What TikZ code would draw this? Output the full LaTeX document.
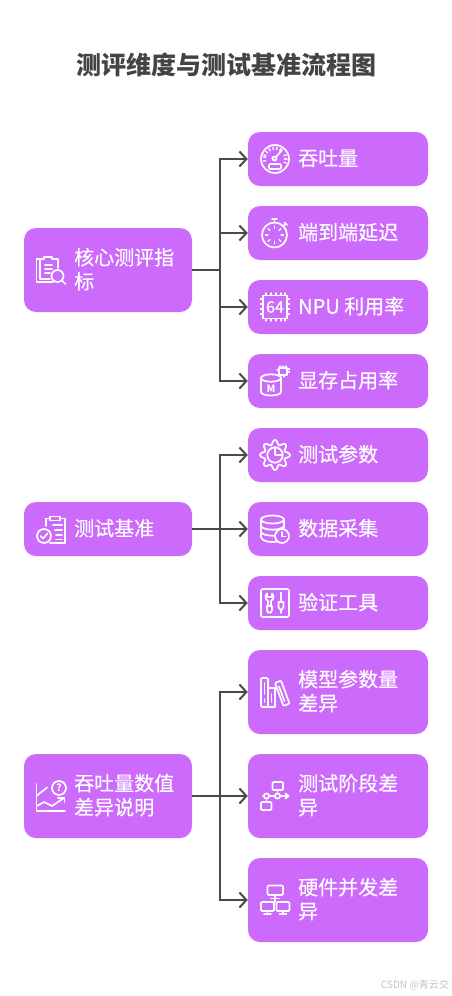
\documentclass[tikz,border=0pt]{standalone}
\usepackage{fontspec}
\setmainfont{Noto Sans CJK SC}
\usepackage{xcolor}
\usetikzlibrary{arrows.meta}
\definecolor{boxc}{HTML}{CC6BFB}
\definecolor{linec}{HTML}{4A4A4A}
\definecolor{titlec}{HTML}{444444}
\definecolor{markc}{HTML}{C4C4C4}
\tikzset{
  x=1pt,y=-1pt,
  boxn/.style={fill=boxc,rounded corners=12pt,inner sep=0pt,minimum width=#1},
  pbox/.style={boxn=168pt},
  cbox/.style={boxn=180pt},
  lbl/.style={anchor=west,inner sep=0pt,align=left,text=white,yshift=0.8pt,font=\fontsize{20}{24}\selectfont\addfontfeature{FakeBold=0.25}},
  conn/.style={draw=linec,line width=2pt,-{Straight Barb[length=7pt,width=15pt,line width=2pt]}},
  ic/.style={draw=white,line width=1.7pt,line cap=round,line join=round},
  ict/.style={ic,line width=1.3pt},
  icf/.style={ic,fill=boxc},
  ictxt/.style={inner sep=0pt,text=white}
}
\begin{document}
\begin{tikzpicture}
\useasboundingbox[fill=white] (0,0) rectangle (452,996);
\node[inner sep=0pt,text=titlec,font=\fontsize{25}{30}\selectfont\bfseries] (title) at (226.5,65) {测评维度与测试基准流程图};

% parent boxes
\node[pbox,minimum height=84pt] (p1) at (108,270) {};
\node[pbox,minimum height=54pt] (p2) at (108,529) {};
\node[pbox,minimum height=84pt] (p3) at (108,796) {};
% child boxes
\node[cbox,minimum height=54pt] (a1) at (338,159) {};
\node[cbox,minimum height=54pt] (a2) at (338,233) {};
\node[cbox,minimum height=54pt] (a3) at (338,307) {};
\node[cbox,minimum height=54pt] (a4) at (338,381) {};
\node[cbox,minimum height=54pt] (b1) at (338,455) {};
\node[cbox,minimum height=54pt] (b2) at (338,529) {};
\node[cbox,minimum height=54pt] (b3) at (338,603) {};
\node[cbox,minimum height=84pt] (c1) at (338,692) {};
\node[cbox,minimum height=84pt] (c2) at (338,796) {};
\node[cbox,minimum height=84pt] (c3) at (338,900) {};

% labels
\node[lbl] (tp1) at (74,270) {核心测评指\\标};
\node[lbl] (tp2) at (74,529) {测试基准};
\node[lbl] (tp3) at (74,796) {吞吐量数值\\差异说明};
\node[lbl] (ta1) at (298,159) {吞吐量};
\node[lbl] (ta2) at (298,233) {端到端延迟};
\node[lbl] (ta3) at (298,307) {NPU 利用率};
\node[lbl] (ta4) at (298,381) {显存占用率};
\node[lbl] (tb1) at (298,455) {测试参数};
\node[lbl] (tb2) at (298,529) {数据采集};
\node[lbl] (tb3) at (298,603) {验证工具};
\node[lbl] (tc1) at (298,692) {模型参数量\\差异};
\node[lbl] (tc2) at (298,796) {测试阶段差\\异};
\node[lbl] (tc3) at (298,900) {硬件并发差\\异};

% connectors
\coordinate (j1) at (220,270);
\coordinate (j2) at (220,529);
\coordinate (j3) at (220,796);
\foreach \t in {a1,a2,a3,a4} \draw[conn] (p1.east) -- (j1) |- (\t.west);
\foreach \t in {b1,b3} \draw[conn] (p2.east) -- (j2) |- (\t.west);
\draw[conn] (p2.east) -- (b2.west);
\foreach \t in {c1,c3} \draw[conn] (p3.east) -- (j3) |- (\t.west);
\draw[conn] (p3.east) -- (c2.west);

% --- icon: clipboard + magnifier (p1)
\draw[ic] (40,259) -- (36.5,259) -- (36.5,282) -- (53,282);
\draw[ic] (40,259) -- (40,279) -- (50,279);
\draw[ic] (40,259) -- (44,259) -- (44,257) -- (52,257) -- (52,259) -- (58,259) -- (58,268);
\draw[ic] (45,265) -- (52,265) (45,269) -- (52,269) (45,273) -- (50,273);
\draw[ic] (57.5,276) circle (6);
\draw[ic] (62,280.5) -- (65.5,284);

% --- icon: gauge (a1)
\draw[ic] (275,159) circle (14);
\foreach \a in {-160,-140,-120,-100,-80,-60,-20,0,20,170,190}
  \draw[ict] ([shift={(\a:9.5)}]275,159) -- ([shift={(\a:12)}]275,159);
\draw[ic] (274.5,158.5) circle (2);
\draw[ic] (276,157) -- (282,150);
\draw[ic,rounded corners=1pt] (269,164) rectangle (281,169);

% --- icon: stopwatch (a2)
\draw[ic] (274.5,235) circle (12.5);
\draw[ic] (274.5,222.5) -- (274.5,219) (272,219) -- (277,219);
\draw[ic] (283.5,226) -- (286,223.5) (284.5,222.5) -- (287,225);
\foreach \a in {0,45,90,135,180,225,270,315}
  \draw[ict] ([shift={(\a:6.5)}]274.5,235) -- ([shift={(\a:9)}]274.5,235);

% --- icon: chip 64 (a3)
\draw[ic] (263,295.5) rectangle (287,318.5);
\foreach \v in {266,271,276,281,285}{
  \draw[ict] (\v,295.5) -- (\v,293);
  \draw[ict] (\v,318.5) -- (\v,321);
}
\foreach \v in {299,304,309,314}{
  \draw[ict] (263,\v) -- (260.5,\v);
  \draw[ict] (287,\v) -- (289.5,\v);
}
\node[ictxt,font=\fontsize{16}{16}\selectfont\addfontfeature{FakeBold=0.3}] (i64) at (275,307) {64};

% --- icon: cylinder + chip (a4)
\draw[ic] (261,378) -- (261,392) arc (180:0:10 and 3.5) -- (281,378);
\draw[ic] (271,378) ellipse (10 and 3.7);
\node[ictxt,font=\fontsize{10}{10}\selectfont\bfseries] (im) at (271,388.5) {M};
\draw[ic] (279,368) rectangle (287,375);
\foreach \v in {280,283,286}{\draw[ict] (\v,368) -- (\v,366);}
\foreach \v in {369,372}{\draw[ict] (287,\v) -- (289.5,\v);}
\draw[ict] (284,375) -- (284,377) (277,370) -- (279,370);

% --- icon: clipboard + check (p2)
\draw[ic] (46,526) -- (46,518.5) -- (65,518.5) -- (65,543) -- (50,543);
\draw[icf] (50,520.5) -- (50,516.5) -- (60,516.5) -- (60,520.5) -- cycle;
\draw[ic] (53,525) -- (62,525) (55,530) -- (62,530) (56,535) -- (62,535) (56,539.5) -- (62,539.5);
\draw[icf] (44,536) circle (7);
\draw[ic] (40.5,536) -- (43,538.5) -- (47.5,533.5);

% --- icon: gear + pie (b1)
\draw[ic,smooth,samples=97,domain=0:360,variable=\t]
  plot ({275+(12.7+2.3*cos(8*\t))*cos(\t)},{455+(12.7+2.3*cos(8*\t))*sin(\t)}) -- cycle;
\draw[ic] (275,455) circle (7.7);
\draw[ic] (275,447.5) -- (275,455) -- (282.5,455);

% --- icon: database + clock (b2)
\draw[ic] (272.5,519.5) ellipse (11.5 and 4);
\draw[ic] (261,519.5) -- (261,537) arc (180:60:11.5 and 5);
\draw[ic] (284,519.5) -- (284,528);
\draw[ic] (261,525.5) arc (180:0:11.5 and 4.2);
\draw[ic] (261,531.5) arc (180:50:11.5 and 4.2);
\draw[icf] (282,536) circle (7);
\draw[ic] (282,532) -- (282,536.5) -- (285.5,536.5);

% --- icon: tools box (b3)
\draw[ic,rounded corners=2pt] (261,589) rectangle (289,617);
\draw[ic] (267,593.5) -- (265.5,596) -- (266,599) -- (268,601) -- (268,606);
\draw[ic] (272,593.5) -- (273.5,596) -- (273,599) -- (271,601) -- (271,606);
\draw[ic] (267,593.5) -- (267,597) -- (272,597) -- (272,593.5);
\draw[ic] (267,606) -- (272,606) -- (272,610) -- (271,612.5) -- (268,612.5) -- (267,610) -- cycle;
\draw[ic] (281,592.5) -- (281,601) (281,610) -- (281,613);
\draw[ic] (278.5,602) -- (283.5,602) -- (283.5,607) -- (281.5,610) -- (280.5,610) -- (278.5,607) -- cycle;

% --- icon: chart + question (p3)
\draw[ic] (36.5,784) -- (36.5,811) -- (65,811);
\draw[ic] (36.5,796) -- (47,787.5);
\draw[ic] (37,806) -- (44,802) -- (52,806) -- (64,798);
\draw[ic] (58,798) -- (64.5,798) -- (64.5,802);
\draw[ic] (59,788) circle (7);
\node[ictxt,font=\fontsize{10}{10}\selectfont\bfseries] (iq) at (59,788) {?};

% --- icon: books (c1)
\draw[ic,rounded corners=1pt] (261,678) rectangle (268,707);
\draw[ic] (264.5,683) -- (264.5,694) (264.5,699) -- (264.5,702);
\draw[ic] (268,688) -- (275,688) -- (275,707) -- (268,707);
\draw[ic] (271.5,694) -- (271.5,702);
\draw[ic,rounded corners=1pt] (275,683) -- (281,680.5) -- (289.5,703.5) -- (283.5,706) -- cycle;
\draw[ic] (279,686.5) -- (284.5,701);

% --- icon: workflow (c2)
\draw[ic,rounded corners=1pt] (272.5,782) rectangle (283,790);
\draw[ic] (277.5,790) -- (277.5,793);
\draw[ic] (263,796) -- (288.5,796);
\draw[ic] (285.5,793.5) -- (288.5,796) -- (285.5,798.5);
\draw[icf] (266.5,796) circle (2.6);
\draw[icf] (277.5,796) circle (2.6);
\draw[ic] (266.5,798.6) -- (266.5,802);
\draw[ic,rounded corners=1pt] (261,802) rectangle (271.5,810);

% --- icon: network (c3)
\draw[ic,rounded corners=1pt] (267.5,885.5) rectangle (283,895);
\draw[ic] (275,895) -- (275,902) (271,898.5) -- (279,898.5);
\draw[ic,rounded corners=1pt] (261,902) rectangle (274,911);
\draw[ic,rounded corners=1pt] (276.5,902) rectangle (289.5,911);
\draw[ic] (267.5,911) -- (267.5,914) (264,914) -- (271,914);
\draw[ic] (283,911) -- (283,914) (279.5,914) -- (286.5,914);

% watermark
\node[inner sep=0pt,anchor=east,text=markc,font=\fontsize{10}{11}\selectfont] (wm) at (449,985) {CSDN @青云交};
\end{tikzpicture}
\end{document}
